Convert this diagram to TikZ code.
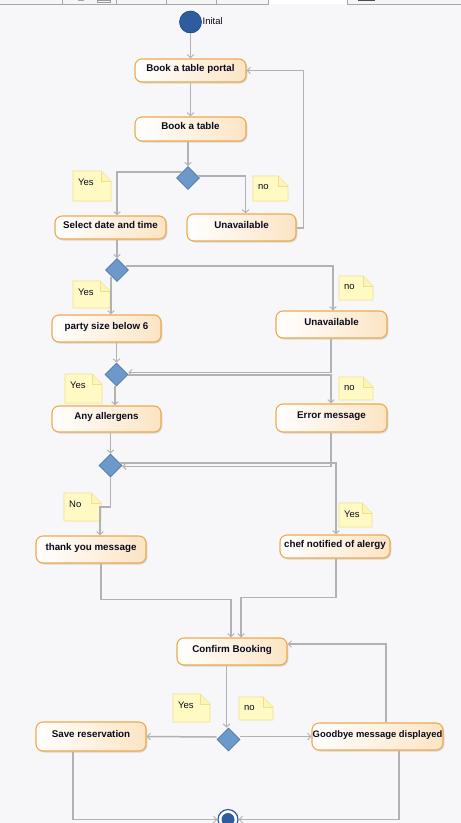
\documentclass[tikz,border=0pt]{standalone}
\usepackage{fontspec}
\setmainfont{Liberation Sans}
\usetikzlibrary{shapes.geometric,arrows.meta,calc,shadows}

\definecolor{canvasbg}{HTML}{F7F6F9}
\definecolor{actborder}{HTML}{EEAA4C}
\definecolor{actfill}{HTML}{FCE4C4}
\definecolor{decfill}{HTML}{6C98CA}
\definecolor{decborder}{HTML}{4E77A8}
\definecolor{notefill}{HTML}{FFFAC4}
\definecolor{noteborder}{HTML}{F1E08A}
\definecolor{flowgray}{HTML}{B2B2B2}
\definecolor{nodeblue}{HTML}{2D5C9F}
\definecolor{nodeblueedge}{HTML}{1F4580}
\definecolor{inktext}{HTML}{0B0B1E}
\definecolor{barline}{HTML}{A8A8A8}

% sticky note with a folded top-right corner: name, top-left, bottom-right, text
\newcommand{\stickynote}[4]{%
  \coordinate (#1-tl) at #2;
  \coordinate (#1-br) at #3;
  \coordinate (#1-tr) at (#1-tl -| #1-br);
  \path[notebody] (#1-tl) -- ($(#1-tr)+(-10,0)$) -- ($(#1-tr)+(0,10)$)
        -- (#1-br) -- (#1-tl |- #1-br) -- cycle;
  \path[notefold] ($(#1-tr)+(-10,0)$) -- ($(#1-tr)+(-10,10)$) -- ($(#1-tr)+(0,10)$);
  \node[notetext] (#1) at ($(#1-tl)+(5,11)$) {#4};
}

\begin{document}
\begin{tikzpicture}[x=1pt,y=-1pt,
  act/.style={rectangle, rounded corners=7pt, draw=actborder, line width=1.1pt,
    left color=white, right color=actfill,
    drop shadow={shadow xshift=1.3pt, shadow yshift=-1.5pt, opacity=0.22, fill=black!60},
    font=\fontsize{9.8}{11}\selectfont\bfseries, text=inktext,
    text height=6.5pt, text depth=5pt, inner sep=0pt},
  decision/.style={diamond, aspect=1, minimum width=23pt, minimum height=23pt,
    inner sep=0pt, fill=decfill, draw=decborder, line width=0.6pt},
  notebody/.style={fill=notefill, draw=noteborder, line width=0.9pt, line join=miter},
  notefold/.style={draw=noteborder, line width=0.9pt, fill=notefill!80!noteborder},
  notetext/.style={anchor=west, inner sep=0pt, font=\fontsize{9.5}{10}\selectfont, text=inktext},
  flow/.style={draw=flowgray, line width=1.5pt,
    -{Straight Barb[length=3.2pt,width=6.5pt,line width=1pt]}},
  startnode/.style={circle, fill=nodeblue, draw=nodeblueedge, line width=0.6pt,
    minimum size=22pt, inner sep=0pt},
  endring/.style={circle, fill=white, draw=nodeblue, line width=1.2pt,
    minimum size=20pt, inner sep=0pt},
  enddot/.style={circle, fill=nodeblue, minimum size=13pt, inner sep=0pt},
]

% canvas and frame
\useasboundingbox (0,0) rectangle (461,823);
\fill[canvasbg] (0,0) rectangle (461,823);

% strip of the editor toolbar along the top edge
\fill[white!96!black] (0,0) rectangle (268,4);
\fill[white] (268,0) rectangle (347,4);
\fill[white!96!black] (347,0) rectangle (461,4);
\draw[barline, line width=0.8pt] (0,4.3) -- (268,4.3) -- (268,0);
\draw[barline, line width=0.8pt] (347,0) -- (347,4.3) -- (461,4.3);
\foreach \sx in {62,116,166,216}
  \draw[barline, line width=0.7pt] (\sx,0) -- (\sx,4);
\fill[black!70] (358,0) rectangle (375,1);
\fill[black!35] (78,0) rectangle (84,1.2);
\draw[black!40, line width=0.6pt] (97,0) rectangle (110,2.4);

% initial and final nodes
\node[startnode] (init) at (190.5,22) {};
\node[anchor=west, inner sep=0pt, font=\fontsize{9.5}{10}\selectfont, text=inktext]
  (initlabel) at (202.5,21) {Inital};
\node[endring] (final) at (228,819.5) {};
\node[enddot] (finaldot) at (final.center) {};

% actions
\node[act, minimum width=111, minimum height=23] (portal)  at (190.5,70.5) {Book a table portal};
\node[act, minimum width=111, minimum height=24] (book)    at (190.5,129)  {Book a table};
\node[act, minimum width=111, minimum height=23] (select)  at (110.5,227.5){Select date and time};
\node[act, minimum width=109, minimum height=27] (unav1)   at (241.5,227.5){Unavailable};
\node[act, minimum width=109, minimum height=27] (party)   at (106.5,328.5){party size below 6};
\node[act, minimum width=111, minimum height=27] (unav2)   at (331.5,324.5){Unavailable};
\node[act, minimum width=109, minimum height=26] (allerg)  at (106.5,419)  {Any allergens};
\node[act, minimum width=111, minimum height=28] (error)   at (331.5,418)  {Error message};
\node[act, minimum width=110, minimum height=27] (thanks)  at (91,549.5)   {thank you message};
\node[act, minimum width=110, minimum height=23] (chef)    at (335,546.5)  {chef notified of alergy};
\node[act, minimum width=110, minimum height=27] (confirm) at (232,651.5)  {Confirm Booking};
\node[act, minimum width=110, minimum height=29] (save)    at (91,736.5)   {Save reservation};
\node[act, minimum width=131, minimum height=27, font=\fontsize{9.4}{11}\selectfont\bfseries]
  (goodbye) at (377.5,736.5){Goodbye message displayed};

% decisions
\node[decision] (d1) at (188,178) {};
\node[decision] (d2) at (117,270) {};
\node[decision] (d3) at (116.5,374.5) {};
\node[decision] (d4) at (110.5,465.5) {};
\node[decision] (d5) at (228.5,739.5) {};

% guard notes
\stickynote{n1}{(73,171)}{(111,201)}{Yes}
\stickynote{n2}{(253,176)}{(288,201)}{no}
\stickynote{n3}{(73,281)}{(110,308)}{Yes}
\stickynote{n4}{(339,276)}{(373,300)}{no}
\stickynote{n5}{(65,374)}{(102,403)}{Yes}
\stickynote{n6}{(339,377)}{(373,400)}{no}
\stickynote{n7}{(64,493)}{(101,521)}{No}
\stickynote{n8}{(339,503)}{(372,527)}{Yes}
\stickynote{n9}{(173,694)}{(210,722)}{Yes}
\stickynote{n10}{(239,697)}{(273,720)}{no}

% control flows
\draw[flow] (init.south) -- (init.south |- portal.north);
\draw[flow] (portal.south) -- (book.north);
\draw[flow] (d1.north |- book.south) -- (d1.north);
\draw[flow] (d1.north west) -| ($(select.north)+(6.5,0)$);
\draw[flow] ($(d1.east)+(-2,-2)$) -| ($(unav1.north)+(4,0)$);
\draw[flow] ($(unav1.east)+(0,0.5)$) -- ++(7,0) |- (portal.east);

\draw[flow] (d2.north |- select.south) -- (d2.north);
\draw[flow] ($(d2.east)+(-3,-4)$) -| ($(unav2.north)+(1.5,0)$);
\draw[flow] ($(d2.south)+(-6,-5)$) coordinate (d2out) -- (d2out |- party.north);

\draw[flow] (d3.north |- party.south) -- (d3.north);
\draw[flow] ($(unav2.south)+(-0.5,0)$) |- ($(d3.east)+(0,-2)$);
\draw[flow] ($(d3.east)+(0,0.5)$) -| ($(error.north)+(-0.5,0)$);
\draw[flow] ($(d3.south)+(-1.5,0)$) coordinate (d3out) -- (d3out |- allerg.north);

\draw[flow] (d4.north |- allerg.south) -- (d4.north);
\draw[flow] ($(error.south)+(-0.5,0)$) |- ($(d4.east)+(0,0.8)$);
\draw[flow] ($(d4.east)+(-2,-2.5)$) -| ($(chef.north)+(1,0)$);
\draw[flow] (d4.south) -- ++(0,29.5) -| ($(thanks.north)+(9,0)$);

\draw[flow] ($(thanks.south)+(10,0)$) -- ++(0,36) -| ($(confirm.north)+(-1,0)$);
\draw[flow] ($(chef.south)+(1,0)$) -- ++(0,39) -| ($(confirm.north)+(9,0)$);

\draw[flow] ($(confirm.south)+(-5.5,0)$) coordinate (cbout) -- (cbout |- d5.north);
\draw[flow] ($(d5.west)+(0,-2.5)$) -- (save.east);
\draw[flow] ($(d5.east)+(0,-3)$) -- (goodbye.west);
\draw[flow] ($(goodbye.north)+(8.5,0)$) |- ($(confirm.east)+(0,-7.5)$);

\draw[flow] ($(save.south)+(-18,0)$) |- (final.west);
\draw[flow] ($(goodbye.south)+(21.5,0)$) |- (final.east);

\end{tikzpicture}
\end{document}
